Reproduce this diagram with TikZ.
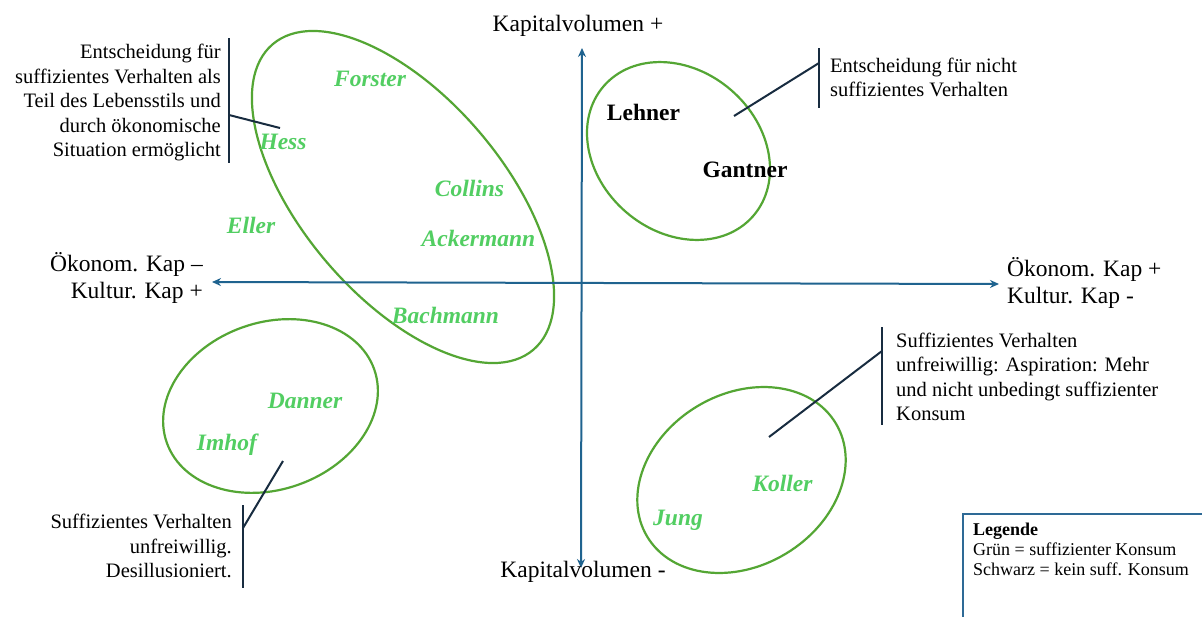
\documentclass[tikz,border=0pt]{standalone}
\usepackage{fontspec}
\setmainfont{Liberation Serif}
\usetikzlibrary{shapes.geometric,arrows.meta}
\definecolor{axisblue}{RGB}{31,99,143}
\definecolor{grpgreen}{RGB}{84,166,52}
\definecolor{namegreen}{RGB}{82,206,98}
\definecolor{leadcol}{RGB}{24,44,64}
\definecolor{legblue}{RGB}{46,106,150}
\tikzset{
  axisline/.style={draw=axisblue, line width=2pt, {Stealth[length=9pt,width=8pt]}-{Stealth[length=9pt,width=8pt]}},
  grp/.style={ellipse, draw=grpgreen, line width=2.2pt, inner sep=0pt, outer sep=0pt},
  nm/.style={text=namegreen, font=\fontsize{23.5}{28}\selectfont\bfseries\itshape, anchor=base, inner sep=0pt},
  nmk/.style={text=black, font=\fontsize{23.5}{28}\selectfont\bfseries, anchor=base, inner sep=0pt},
  note/.style={font=\fontsize{20.5}{24.5}\selectfont, inner sep=0pt},
  leadline/.style={draw=leadcol, line width=2pt},
  axlab/.style={font=\fontsize{23.5}{27.5}\selectfont, inner sep=0pt},
  legtext/.style={font=\fontsize{18}{20}\selectfont, inner sep=0pt, align=left, anchor=north west}
}
\begin{document}
\begin{tikzpicture}[x=1pt,y=-1pt]
\useasboundingbox[fill=white] (0,0) rectangle (1202,616);

% ellipses (groups)
\node[grp, minimum width=401.6pt, minimum height=200.6pt, rotate=-49.5] (g1) at (403,197) {};
\node[grp, minimum width=198pt, minimum height=161pt, rotate=-41] (g2) at (678.5,151) {};
\node[grp, minimum width=220pt, minimum height=167pt, rotate=19.5] (g3) at (270.5,406) {};
\node[grp, minimum width=220pt, minimum height=172pt, rotate=31] (g4) at (741.5,480) {};

% axes
\coordinate (xl) at (212,282);
\coordinate (xr) at (999,284);
\coordinate (yt) at (582,48);
\coordinate (yb) at (581,568);
\draw[axisline] (xl) -- (xr);
\draw[axisline] (yb) -- (yt);

% axis labels
\node[axlab, anchor=base] (ktop) at (578,31) {Kapitalvolumen +};
\node[axlab, anchor=base] (kbot) at (583,577) {Kapitalvolumen -};
\node[axlab, anchor=north east, align=right] (okl) at (203,252) {Ökonom. Kap –\\Kultur. Kap +};
\node[axlab, anchor=north west, align=left] (okr) at (1007,257) {Ökonom. Kap +\\Kultur. Kap -};

% names
\node[nm] (forster) at (370,86.7) {Forster};
\node[nm] (hess) at (283,149) {Hess};
\node[nm] (collins) at (469.5,196.7) {Collins};
\node[nm] (eller) at (251,233) {Eller};
\node[nm] (ackermann) at (478.5,246.7) {Ackermann};
\node[nm] (bachmann) at (445.5,323) {Bachmann};
\node[nm] (danner) at (305,408) {Danner};
\node[nm] (imhof) at (227,450.7) {Imhof};
\node[nm] (koller) at (782.5,491.7) {Koller};
\node[nm] (jung) at (678,525) {Jung};
\node[nmk] (lehner) at (643.5,120) {Lehner};
\node[nmk] (gantner) at (745,177.7) {Gantner};

% annotation texts
\node[note, anchor=north east, align=right] (tl) at (221,44) {Entscheidung für\\suffizientes Verhalten als\\Teil des Lebensstils und\\durch ökonomische\\Situation ermöglicht};
\node[note, anchor=north west, align=left] (tr) at (830,57.7) {Entscheidung für nicht\\suffizientes Verhalten};
\node[note, anchor=north west, align=left] (mr) at (896,332.7) {Suffizientes Verhalten\\unfreiwillig: Aspiration: Mehr\\und nicht unbedingt suffizienter\\Konsum};
\node[note, anchor=north east, align=right] (bl) at (232,514) {Suffizientes Verhalten\\unfreiwillig.\\Desillusioniert.};

% leader lines
\coordinate (tlA) at (229,38);
\coordinate (tlB) at (229,163);
\coordinate (tlC) at (229,115);
\coordinate (tlD) at (280,128);
\draw[leadline] (tlA) -- (tlB);
\draw[leadline] (tlC) -- (tlD);

\coordinate (trA) at (819,48);
\coordinate (trB) at (819,108);
\coordinate (trC) at (819,63);
\coordinate (trD) at (734,116);
\draw[leadline] (trA) -- (trB);
\draw[leadline] (trC) -- (trD);

\coordinate (mrA) at (882,327);
\coordinate (mrB) at (882,425);
\coordinate (mrC) at (882,351);
\coordinate (mrD) at (769,437);
\draw[leadline] (mrA) -- (mrB);
\draw[leadline] (mrC) -- (mrD);

\coordinate (blA) at (243,505);
\coordinate (blB) at (243,588);
\coordinate (blC) at (243,528);
\coordinate (blD) at (283,461);
\draw[leadline] (blA) -- (blB);
\draw[leadline] (blC) -- (blD);

% legend
\coordinate (lgR) at (1203,514);
\coordinate (lgC) at (963,514);
\coordinate (lgB) at (963,617);
\draw[draw=legblue, line width=2pt] (lgR) -- (lgC) -- (lgB);
\node[legtext] (legend) at (973,522.5) {\textbf{Legende}\\Grün = suffizienter Konsum\\Schwarz = kein suff. Konsum};
\end{tikzpicture}
\end{document}
